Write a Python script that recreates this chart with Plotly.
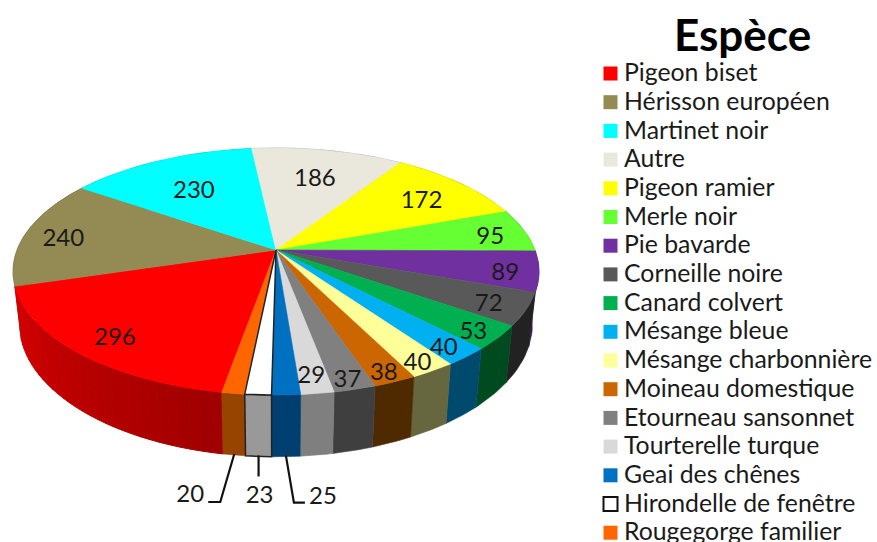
import numpy as np
import plotly.graph_objects as go

ESPECES = ["Pigeon biset", "Hérisson européen", "Martinet noir", "Autre", "Pigeon ramier",
           "Merle noir", "Pie bavarde", "Corneille noire", "Canard colvert", "Mésange bleue",
           "Mésange charbonnière", "Moineau domestique", "Etourneau sansonnet",
           "Tourterelle turque", "Geai des chênes", "Hirondelle de fenêtre", "Rougegorge familier"]
VALEURS = [296, 240, 230, 186, 172, 95, 89, 72, 53, 40, 40, 38, 37, 29, 25, 23, 20]
COULEURS = ["#FF0000", "#948A54", "#00FFFF", "#EAE8DD", "#FFFF00", "#66FF33", "#7030A0", "#595959",
            "#00B050", "#00B0F0", "#FFFF99", "#CC6600", "#808080", "#D9D9D9", "#0070C0", "#FFFFFF", "#FF6600"]
COTES = ["#C00000", "#5A5433", "#009999", "#8E8C85", "#999900", "#3E9A1F", "#3B1A55", "#222222",
         "#004A20", "#004A6E", "#66663F", "#4F2A00", "#3F3F3F", "#7F7F7F", "#003F70", "#999999", "#964400"]
# position radiale des étiquettes (les 3 dernières sont sorties avec un trait)
RAYON_ETIQ = [0.835, 0.85, 0.68, 0.72, 0.775, 0.86, 0.875, 0.86, 0.90, 0.895, 0.915, 0.92, 0.92, 0.87]

# projection du disque
CX, CY = 276, 250
A, B, K = 259, 119.8, 0.174
EPAIS = 51
RETRAIT = 0.975
DEPART = 10
INK = "#1a1a1a"
POLICE = "Lato"
DECAL_TEXTE = 5

total = sum(VALEURS)
bornes = DEPART + np.cumsum([0] + VALEURS) * 360 / total


def dessus(theta, r=1.0):
    t = np.radians(theta)
    w = 1 - K * np.cos(t) * r
    return CX - A * r * np.sin(t) / w, CY + B * r * np.cos(t) / w


def dessous(theta):
    t = np.radians(theta)
    w = 1 - K * np.cos(t)
    return CX - A * RETRAIT * np.sin(t) / w, CY + (B * np.cos(t) + EPAIS) / w


def poly(fig, xs, ys, couleur, ligne=None, larg=0.6):
    fig.add_trace(go.Scatter(x=xs, y=ys, mode="lines", fill="toself", fillcolor=couleur,
                             line=dict(color=ligne or couleur, width=larg), hoverinfo="skip"))


def cote(fig, t0, t1, couleur, ligne=None, larg=0.6):
    arc = np.linspace(t0, t1, 12)
    xh, yh = dessus(arc)
    xb, yb = dessous(arc[::-1])
    poly(fig, np.r_[xh, xb, xh[0]], np.r_[yh, yb, yh[0]], couleur, ligne, larg)


fig = go.Figure()

# côtés, de l'arrière vers l'avant
milieux = (bornes[:-1] + bornes[1:]) / 2
ordre = sorted(range(len(VALEURS)), key=lambda i: -abs(((milieux[i] + 180) % 360) - 180))
for i in ordre:
    if i == 0:
        # dégradé sur le côté rouge
        tr = np.linspace(bornes[0], bornes[1], 31)
        teintes = np.linspace(160, 212, 30).astype(int)
        for t0, t1, v in zip(tr[:-1], tr[1:], teintes):
            cote(fig, t0, t1, f"rgb({v},0,0)", larg=1)
    elif ESPECES[i].startswith("Hirondelle"):
        continue
    else:
        cote(fig, bornes[i], bornes[i + 1], COTES[i])

# dessus
for i in range(len(VALEURS)):
    if ESPECES[i].startswith("Hirondelle"):
        continue
    xa, ya = dessus(np.linspace(bornes[i], bornes[i + 1], 50))
    poly(fig, np.r_[CX, xa, CX], np.r_[CY, ya, CY], COULEURS[i])

# hirondelle, cerclée de noir
i = ESPECES.index("Hirondelle de fenêtre")
cote(fig, bornes[i], bornes[i + 1], COTES[i], "#222222", 1.5)
xa, ya = dessus(np.linspace(bornes[i], bornes[i + 1], 10))
poly(fig, np.r_[CX, xa, CX], np.r_[CY, ya, CY], COULEURS[i], "#222222", 1.5)

# étiquettes dans le disque
xe, ye = dessus(milieux[:len(RAYON_ETIQ)], np.array(RAYON_ETIQ))
fig.add_trace(go.Scatter(x=xe, y=ye + DECAL_TEXTE, mode="text", text=[str(v) for v in VALEURS[:len(RAYON_ETIQ)]],
                         textfont=dict(family=POLICE, size=24, color=INK), hoverinfo="skip"))

# étiquettes sorties avec trait de rappel
sorties = [(14, (8, 46), (19, 46), (37, 37)), (15, (0, 20), None, (1, 37)), (16, (-14, 47), (-26, 47), (-44, 37))]
for i, p1, p2, pos in sorties:
    x0, y0 = dessous(milieux[i])
    xs = [x0, x0 + p1[0]] + ([x0 + p2[0]] if p2 else [])
    ys = [y0 - 1, y0 + p1[1]] + ([y0 + p2[1]] if p2 else [])
    fig.add_trace(go.Scatter(x=xs, y=ys, mode="lines", line=dict(color="#111111", width=2.2), hoverinfo="skip"))
    fig.add_trace(go.Scatter(x=[x0 + pos[0]], y=[y0 + pos[1] + DECAL_TEXTE - 1], mode="text", text=[str(VALEURS[i])],
                             textfont=dict(family=POLICE, size=24, color=INK), hoverinfo="skip"))

# légende
ly = 73.5 + np.arange(len(ESPECES)) * 28.7
fig.add_trace(go.Scatter(x=[610.5] * len(ESPECES), y=ly, mode="markers", hoverinfo="skip",
                         marker=dict(symbol="square", size=14, color=COULEURS,
                                     line=dict(color=["#111111" if c == "#FFFFFF" else c for c in COULEURS],
                                               width=[2 if c == "#FFFFFF" else 0 for c in COULEURS]))))
fig.add_trace(go.Scatter(x=[624] * len(ESPECES), y=ly + 1.5, mode="text", text=ESPECES, textposition="middle right",
                         textfont=dict(family=POLICE, size=24.8, color=INK), hoverinfo="skip", cliponaxis=False))

fig.add_annotation(x=742, y=34, text="<b>Espèce</b>", showarrow=False,
                   font=dict(family=POLICE, size=44, color="#000000"))

fig.update_xaxes(visible=False, range=[0, 877], fixedrange=True)
fig.update_yaxes(visible=False, range=[542, 0], fixedrange=True)
fig.update_layout(width=877, height=542, margin=dict(l=0, r=0, t=0, b=0), showlegend=False,
                  paper_bgcolor="white", plot_bgcolor="white", hovermode=False)

fig.write_html("out.html", config=dict(displayModeBar=False),
               post_script="document.body.style.margin='0';document.body.style.overflow='hidden';")
